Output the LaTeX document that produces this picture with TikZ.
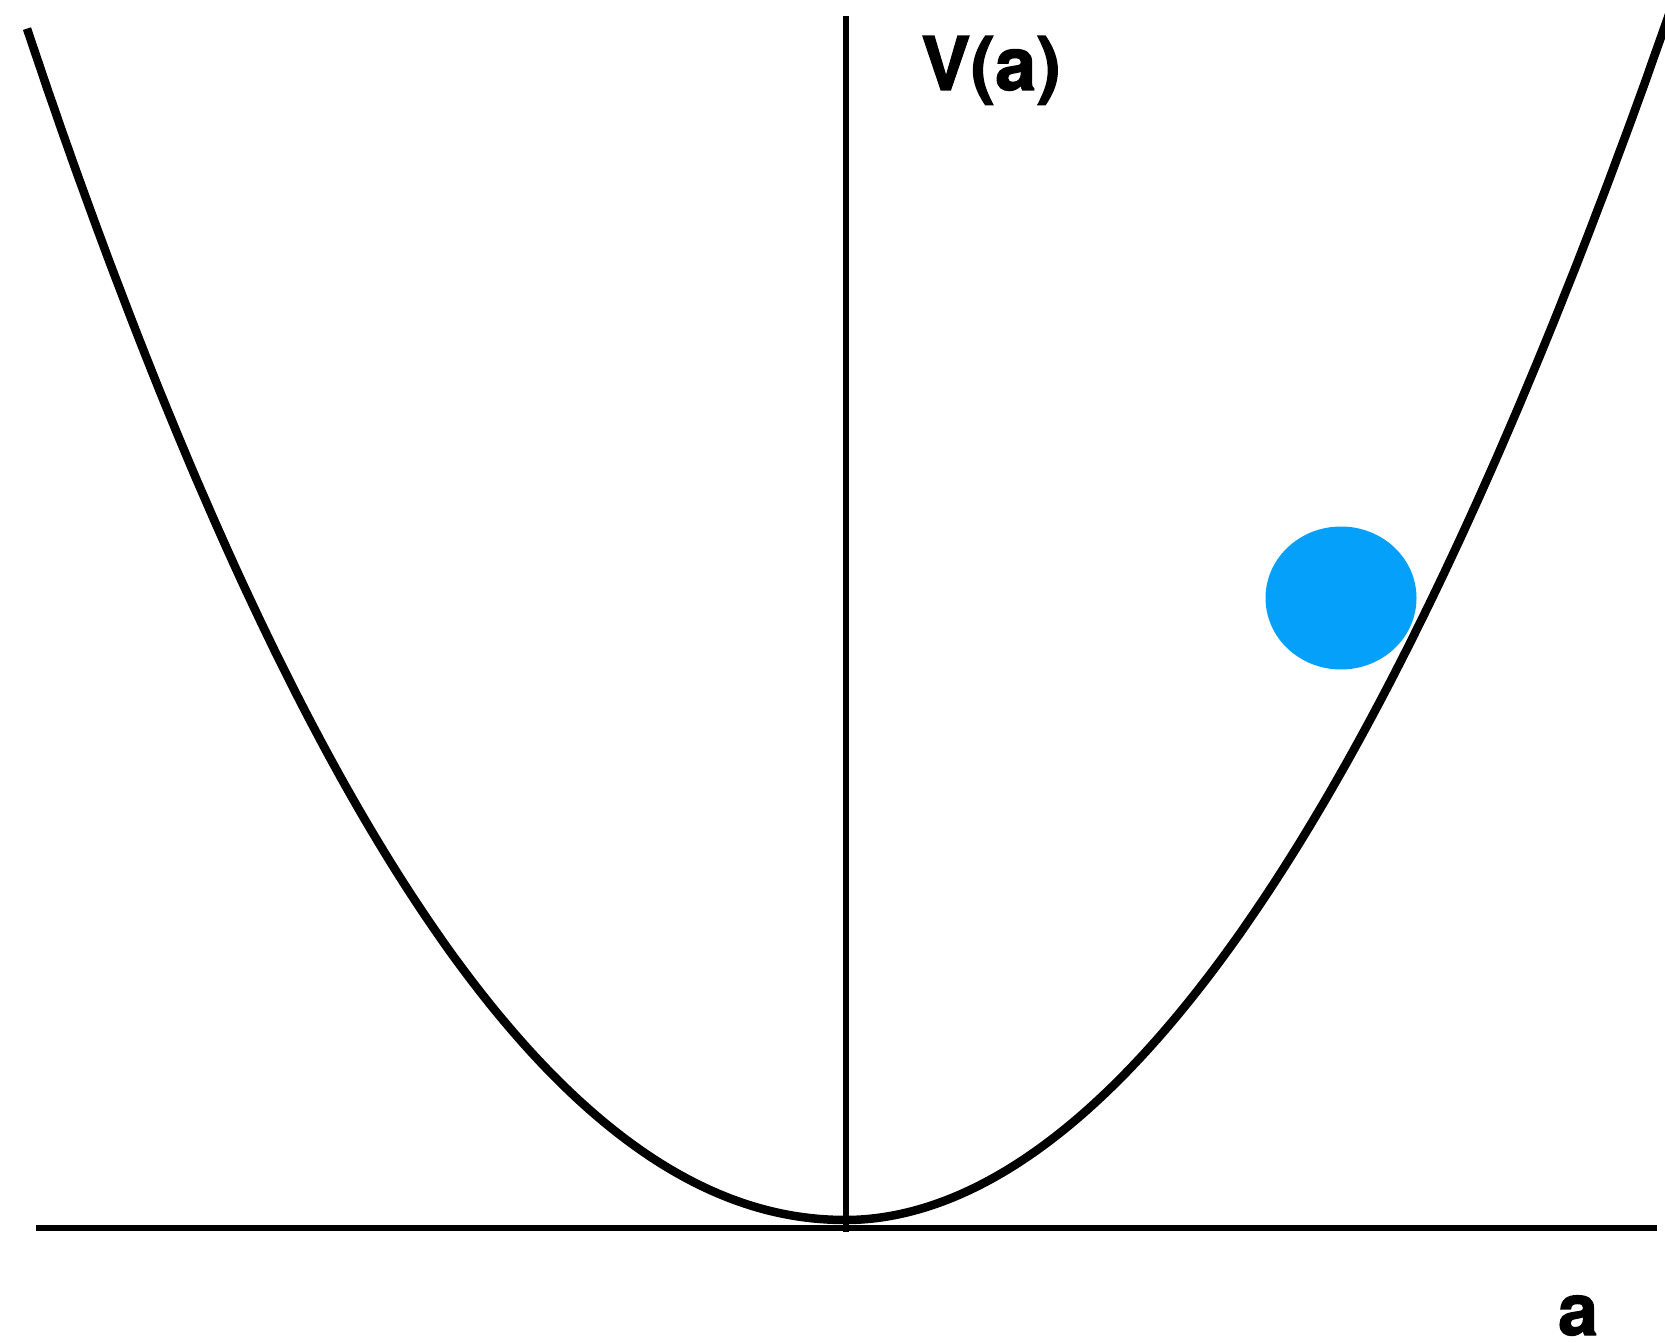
\documentclass[tikz,border=0pt]{standalone}
\usepackage{fontspec}
\setmainfont{Liberation Sans}
\newfontfamily\lblfont[FakeBold=1.6]{TeX Gyre Heros}
\definecolor{ballblue}{RGB}{5,160,250}
\begin{document}
\begin{tikzpicture}[x=1pt,y=-1pt,
  axisline/.style={line width=6pt,black},
  curveline/.style={line width=8.5pt,black,line join=round},
  lbl/.style={inner sep=0pt,text depth=0pt,font=\lblfont\bfseries\fontsize{74}{80}\selectfont}]
\useasboundingbox (0,0) rectangle (1665,1343);
\coordinate (xl) at (36,1228);
\coordinate (xr) at (1657,1228);
\coordinate (yb) at (846,1232);
\coordinate (yt) at (846,16);
\draw[axisline] (xl) -- (xr);
\draw[axisline] (yb) -- (yt);
\begin{scope}
\clip (0,0) rectangle (1665,1343);
\draw[curveline] plot[domain=8.19:0.01,samples=120,smooth] ({846-100*\x},{1220-15.99*pow(\x,2.05)})
  -- plot[domain=0.01:8.35,samples=120,smooth] ({846+100*\x},{1220-19.78*pow(\x,1.95)});
\end{scope}
\fill[ballblue] (1341,598) ellipse [x radius=75.5, y radius=71.5];
\node[lbl,anchor=base] (va) at (991,90) {V(a)};
\node[lbl,anchor=base,font=\lblfont\bfseries\fontsize{72}{80}\selectfont] (al) at (1578,1335) {a};
\end{tikzpicture}
\end{document}
